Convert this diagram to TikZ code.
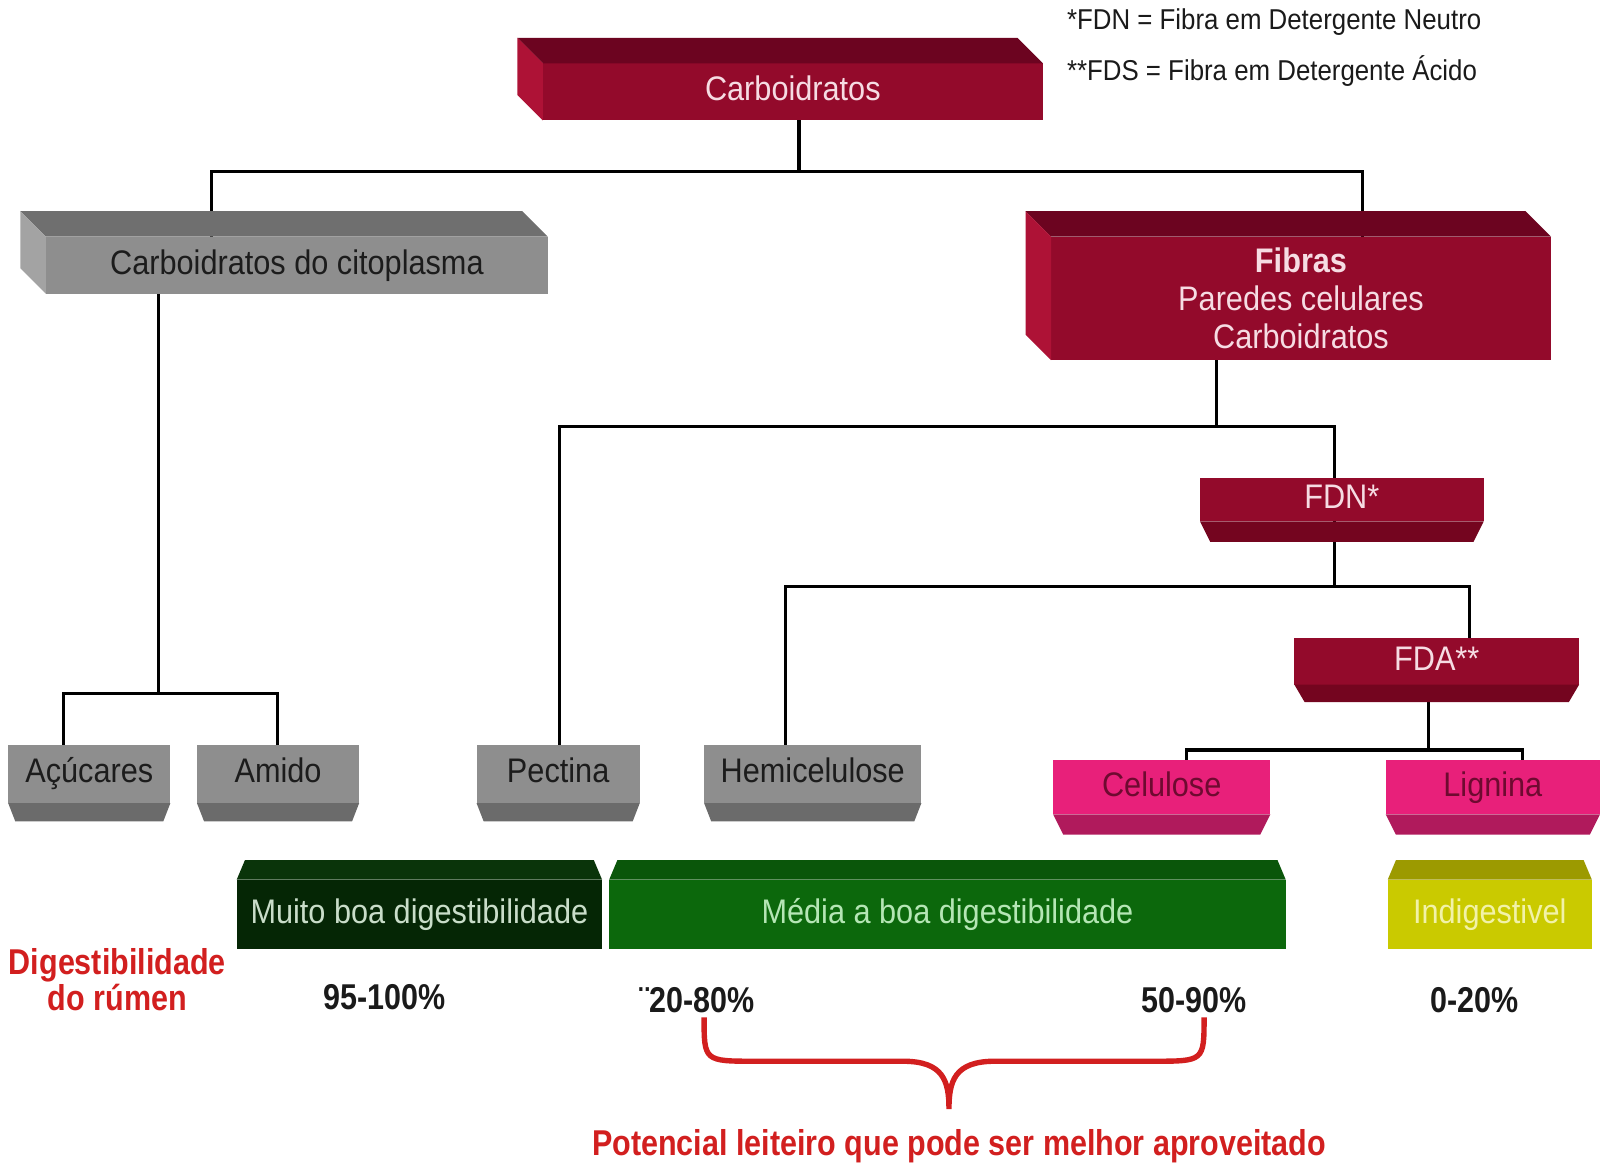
\documentclass[tikz,border=0pt]{standalone}
\usepackage{fontspec}
\setmainfont{Liberation Sans}[FakeStretch=0.9]
\newfontfamily\condsans{Liberation Sans}[FakeStretch=0.85]
\usetikzlibrary{backgrounds}

\definecolor{wine}{HTML}{930A2B}
\definecolor{winetop}{HTML}{6C0420}
\definecolor{wineside}{HTML}{AE1236}
\definecolor{winebot}{HTML}{74051F}
\definecolor{winetext}{HTML}{F6DCE3}
\definecolor{stone}{HTML}{8E8E8E}
\definecolor{stonetop}{HTML}{6F6F6F}
\definecolor{stoneside}{HTML}{A3A3A3}
\definecolor{stonebot}{HTML}{6B6B6B}
\definecolor{stonetext}{HTML}{1C1C1C}
\definecolor{rose}{HTML}{E8207A}
\definecolor{rosebot}{HTML}{B01A5C}
\definecolor{rosetext}{HTML}{6E0A30}
\definecolor{pine}{HTML}{052605}
\definecolor{pinetop}{HTML}{0A340A}
\definecolor{pinetext}{HTML}{C9DDC9}
\definecolor{leaf}{HTML}{0C680C}
\definecolor{leaftop}{HTML}{0A560A}
\definecolor{leaftext}{HTML}{B5E6B5}
\definecolor{mustard}{HTML}{CACA00}
\definecolor{mustardtop}{HTML}{9C9A00}
\definecolor{mustardtext}{HTML}{F2F2A8}
\definecolor{alert}{HTML}{D21F1F}
\definecolor{ink}{HTML}{1A1A1A}

% faces of the 3d boxes
\newcommand{\slabtl}[3]{%
  \fill[#2] (#1.north west) -- ++(-25,-25) -- ([shift={(-25,-25)}]#1.north east) -- (#1.north east) -- cycle;
  \fill[#3] (#1.north west) -- ++(-25,-25) -- ([shift={(-25,-25)}]#1.south west) -- (#1.south west) -- cycle;}
\newcommand{\slabbot}[4]{%
  \fill[#2] (#1.south west) -- (#1.south east) -- ++(-#4,#3) -- ([shift={(#4,#3)}]#1.south west) -- cycle;}
\newcommand{\slabtop}[4]{%
  \fill[#2] (#1.north west) -- ([shift={(#4,-#3)}]#1.north west) -- ([shift={(-#4,-#3)}]#1.north east) -- (#1.north east) -- cycle;}

\tikzset{auto,
  wh/.style 2 args={minimum width=#1*0.01cm, minimum height=#2*0.01cm},
  face/.style={rectangle, inner sep=0pt, outer sep=0pt, align=center,
    text height=7pt, text depth=2pt, font=\fontsize{9.5}{10.5}\selectfont},
  redbox/.style={face, fill=wine, text=winetext},
  graybox/.style={face, fill=stone, text=stonetext},
  pinkbox/.style={face, fill=rose, text=rosetext},
  link/.style={draw=black, line width=0.9pt},
  note/.style={inner sep=0pt, font=\condsans\bfseries\fontsize{10}{10}\selectfont, text=ink},
  warn/.style={note, text=alert, align=center}}

\begin{document}
\begin{tikzpicture}[x=0.01cm, y=-0.01cm]
	\useasboundingbox (0,0) rectangle (1568,1145);

	% top of the tree
	\node[redbox, wh={490}{56}] (carb) at (777,90) {Carboidratos};
	\slabtl{carb}{winetop}{wineside}
	\node[graybox, wh={492}{56}] (cito) at (291,260) {Carboidratos do citoplasma};
	\slabtl{cito}{stonetop}{stoneside}
	\node[redbox, wh={490}{121}, text height=, text depth=] (fib) at (1275,292.5) {\textbf{Fibras}\\Paredes celulares\\Carboidratos};
	\slabtl{fib}{winetop}{wineside}

	\node[redbox, wh={278}{43}] (fdn) at (1315,489.5) {FDN*};
	\slabbot{fdn}{winebot}{20}{10}
	\node[redbox, wh={279}{46}] (fda) at (1408,648) {FDA**};
	\slabbot{fda}{winebot}{17}{10}

	% leaves
	\node[graybox, wh={159}{57}] (acu) at (87.5,758.5) {Açúcares};
	\slabbot{acu}{stonebot}{18}{7}
	\node[graybox, wh={159}{57}] (ami) at (272.5,758.5) {Amido};
	\slabbot{ami}{stonebot}{18}{7}
	\node[graybox, wh={160}{57}] (pec) at (547,758.5) {Pectina};
	\slabbot{pec}{stonebot}{18}{7}
	\node[graybox, wh={213}{57}] (hem) at (796.5,758.5) {Hemicelulose};
	\slabbot{hem}{stonebot}{18}{7}
	\node[pinkbox, wh={213}{53}] (cel) at (1138.5,771.5) {Celulose};
	\slabbot{cel}{rosebot}{20}{10}
	\node[pinkbox, wh={210}{53}] (lig) at (1463,771.5) {Lignina};
	\slabbot{lig}{rosebot}{20}{10}

	% digestibility bars
	\node[face, fill=pine, text=pinetext, wh={358}{68}] (mbd) at (411,896) {Muito boa digestibilidade};
	\slabtop{mbd}{pinetop}{19}{8}
	\node[face, fill=leaf, text=leaftext, wh={663}{68}] (mad) at (928.5,896) {Média a boa digestibilidade};
	\slabtop{mad}{leaftop}{19}{8}
	\node[face, fill=mustard, text=mustardtext, wh={200}{68}] (ind) at (1460,896) {Indigestivel};
	\slabtop{ind}{mustardtop}{19}{8}

	\node[warn] (dig) at (115,960) {Digestibilidade\\do rúmen};
	\node[note] (p95) at (377,977) {95-100\%};
	\node[note] (p20) at (683,980) {¨20-80\%};
	\node[note] (p50) at (1170,980) {50-90\%};
	\node[note] (p0) at (1445,980) {0-20\%};
	\node[warn] (pot) at (940,1123) {Potencial leiteiro que pode ser melhor aproveitado};

	\draw[alert, line width=1.5pt] (690,997) .. controls (690,1040) .. (740,1040) -- (885,1040)
		.. controls (925,1040) and (930,1060) .. (930,1087)
		.. controls (930,1060) and (935,1040) .. (975,1040) -- (1130,1040)
		.. controls (1180,1040) .. (1180,997);

	% legend
	\node[anchor=west, inner sep=0pt, font=\fontsize{8}{8}\selectfont, text=ink] (leg1) at (1045,22) {*FDN = Fibra em Detergente Neutro};
	\node[anchor=west, inner sep=0pt, font=\fontsize{8}{8}\selectfont, text=ink] (leg2) at (1045,70) {**FDS = Fibra em Detergente Ácido};

	% connectors
	\begin{scope}[on background layer]
		\coordinate (j0) at (783,168); \coordinate (j1) at (207,168); \coordinate (j2) at (1335,168);
		\draw[link] (j0 |- carb) -- (j0);
		\draw[link] (j1 |- cito.north) -- (j1) -- (j2) -- (j2 |- fib.north);
		\coordinate (k0) at (155,680); \coordinate (k1) at (62,680); \coordinate (k2) at (272,680);
		\draw[link] (k0 |- cito) -- (k0);
		\draw[link] (k1 |- acu.north) -- (k1) -- (k2) -- (k2 |- ami.north);
		\coordinate (m0) at (1192,418); \coordinate (m1) at (548,418); \coordinate (m2) at (1308,418);
		\draw[link] (m0 |- fib) -- (m0);
		\draw[link] (m1 |- pec.north) -- (m1) -- (m2) -- (m2 |- fdn.north);
		\coordinate (n0) at (1308,575); \coordinate (n1) at (770,575); \coordinate (n2) at (1440,575);
		\draw[link] (n0 |- fdn) -- (n0);
		\draw[link] (n1 |- hem.north) -- (n1) -- (n2) -- (n2 |- fda.north);
		\coordinate (q0) at (1400,735); \coordinate (q1) at (1163,735); \coordinate (q2) at (1492,735);
		\draw[link] (q0 |- fda) -- (q0);
		\draw[link] (q1 |- cel.north) -- (q1) -- (q2) -- (q2 |- lig.north);
	\end{scope}
\end{tikzpicture}
\end{document}
